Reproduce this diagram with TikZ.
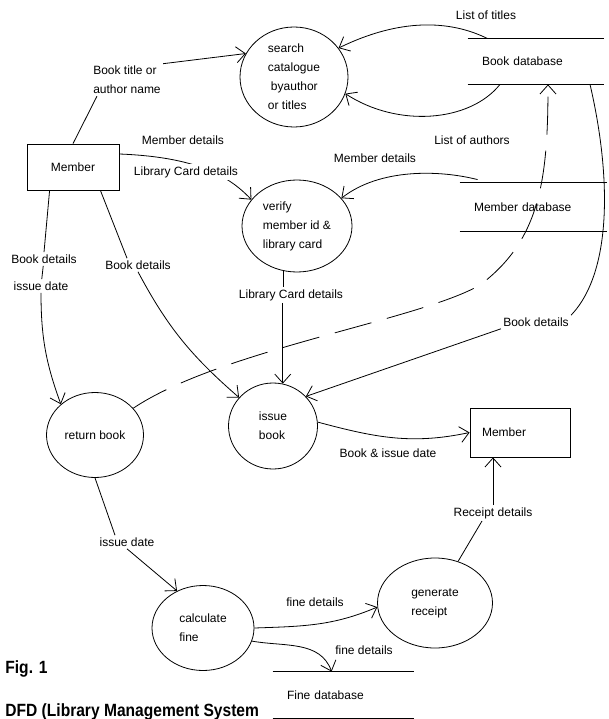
\documentclass[tikz,border=0pt]{standalone}
\usepackage{fontspec}
\setmainfont{Liberation Sans}
\newfontfamily\figfont[FakeStretch=0.88]{Liberation Sans}
\usepackage{tikz}
\usetikzlibrary{shapes.geometric}
\usetikzlibrary{arrows.meta}
\tikzstyle{every node}=[font=\fontsize{12}{19}\selectfont]
\tikzstyle{process}=[draw, ellipse, inner sep=0pt, align=left]
\tikzstyle{entity}=[draw, rectangle, inner sep=0pt]
\tikzstyle{store}=[inner xsep=14pt, inner ysep=0pt, align=left]
\tikzstyle{lbl}=[fill=white, inner sep=2pt, align=left]
\tikzstyle{flow}=[-{Straight Barb[length=9pt, width=16pt]}]
\tikzstyle{dflow}=[flow, dash pattern=on 38pt off 16pt]
\tikzstyle{figtext}=[anchor=base west, inner sep=0pt, font=\figfont\bfseries\fontsize{17.7}{20}\selectfont]

\begin{document}
\begin{tikzpicture}[x=1pt, y=-1pt, line width=0.8pt]
        \useasboundingbox (0, 0) rectangle (609, 719);
        \node[process, minimum width=108pt, minimum height=100pt] (S1) at (294, 77) {search\\catalogue\\\hspace*{3pt}byauthor\\or titles};
        \node[process, minimum width=110pt, minimum height=92pt]  (V1) at (297, 226) {verify\\member id \&\\library card};
        \node[process, minimum width=89pt, minimum height=86pt]   (I1) at (273, 426) {issue\\book};
        \node[process, minimum width=97pt, minimum height=85pt]   (R1) at (95, 435) {return book};
        \node[process, minimum width=102pt, minimum height=85pt]  (C1) at (203, 628) {calculate\\fine};
        \node[process, minimum width=115pt, minimum height=90pt]  (G1) at (435, 603) {generate\\receipt};
        \node[entity, minimum width=92pt, minimum height=46pt]    (M1) at (73, 167) {Member};
        \node[entity, minimum height=49pt, text width=76pt, inner xsep=12pt, align=left] (M2) at (520, 432.5) {Member};
        \node[store, text width=108pt, minimum height=45pt] (BD) at (536, 61.5) {Book database};
        \node[store, text width=119pt, minimum height=48pt] (MD) at (533.5, 207) {Member database};
        \node[store, text width=113pt, minimum height=46pt] (FD) at (343.5, 695) {Fine database};
        \draw (BD.north west) -- (BD.north east) (BD.south west) -- (BD.south east);
        \draw (MD.north west) -- (MD.north east) (MD.south west) -- (MD.south east);
        \draw (FD.north west) -- (FD.north east) (FD.south west) -- (FD.south east);
        \draw[flow] ([yshift=13pt]M1.east) .. controls (195, 157) and (228, 175) .. (V1.150);
        \node[lbl] (L1)  at (127, 80)  {Book title or\\author name};
        \node[lbl] (L2)  at (183, 140) {Member details};
        \node[lbl] (L3)  at (186, 172) {Library Card details};
        \node[lbl] (L4)  at (44, 259)  {Book details};
        \node[lbl] (L5)  at (41, 286)  {issue date};
        \node[lbl] (L6)  at (138, 265) {Book details};
        \node[lbl] (L7)  at (486, 15)  {List of titles};
        \node[lbl] (L8)  at (472, 140) {List of authors};
        \node[lbl] (L9)  at (375, 158) {Member details};
        \node[lbl] (L10) at (291, 295) {Library Card details};
        \node[lbl] (L11) at (536, 322) {Book details};
        \node[lbl] (L12) at (388, 453) {Book \& issue date};
        \node[lbl] (L13) at (493, 513) {Receipt details};
        \node[lbl] (L14) at (127, 542) {issue date};
        \node[lbl] (L15) at (315, 602) {fine details};
        \node[lbl] (L16) at (364, 650) {fine details};
        \node[figtext] (FIG) at (5, 673) {Fig. 1};
        \node[figtext] (TTL) at (5, 716) {DFD (Library Management System};
        \draw (M1.north) -- ([xshift=6pt]L1.south west);
        \draw[flow] (L1.north east) -- (S1.154);
        \draw[flow] ([xshift=20pt]BD.north west) .. controls (450, 20) and (400, 18) .. (S1.33);
        \draw[flow] ([xshift=-36pt]BD.south) .. controls (470, 122) and (398, 128) .. (S1.-18);
        \draw[flow] ([xshift=18pt, yshift=3pt]MD.north west) .. controls (440, 170) and (380, 168) .. (V1.32);
        \draw (V1.253) -- (V1.253 |- L10.north);
        \draw[flow] (I1.77 |- L10.south) -- (I1.77);
        \draw ([xshift=23pt]M1.south west) -- (L4.north);
        \draw (L4) -- (L5);
        \draw[flow] (L5.south) to[out=-90, in=110] (R1.138);
        \draw ([xshift=-19pt]M1.south east) -- ([xshift=-11pt]L6.north);
        \draw[flow] (L6.south) to[out=-62, in=139] (I1.140);
        \draw ([xshift=54pt]BD.south) .. controls (610, 170) and (614, 270) .. (L11.north east);
        \draw[flow] (L11.south west) -- (I1.42);
        \draw[flow] (I1.5) to[out=-15, in=192] (M2.west);
        \draw (G1.61) -- ([xshift=-11pt]L13.south);
        \draw[flow] (L13.north) -- ([xshift=-27pt]M2.south);
        \draw (R1.south) -- ([xshift=-12pt]L14.north);
        \draw[flow] (L14.south) -- (C1.125);
        \draw[flow] (C1.east) to[out=2, in=203] (G1.184);
        \draw[flow] (C1.-15) to[out=-10, in=110] ([xshift=59pt]FD.north west);
        \draw[dflow] (R1.35) .. controls (220, 350) and (420, 320) .. (480, 285) .. controls (540, 240) and (548, 180) .. ([xshift=12pt]BD.south);
    \end{tikzpicture}
\end{document}
